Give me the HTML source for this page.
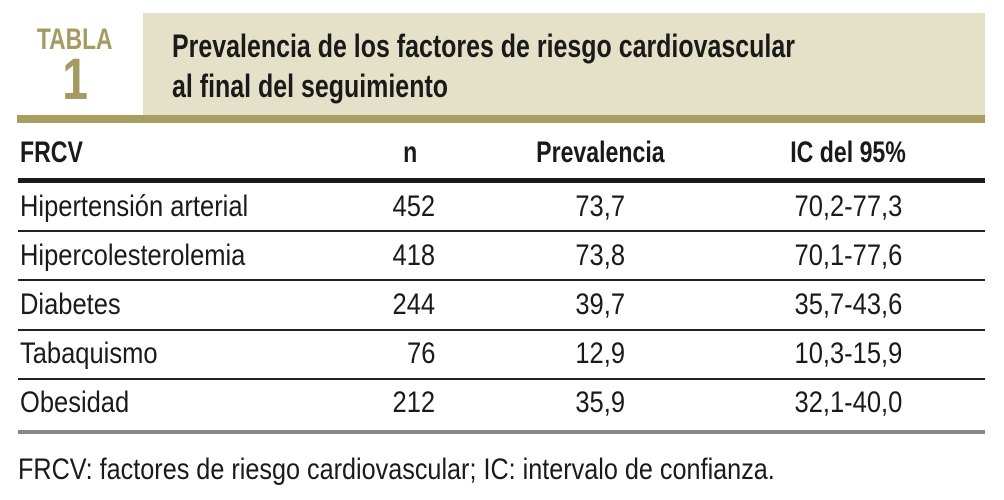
<!DOCTYPE html>
<html><head><meta charset="utf-8"><style>
body{margin:0;width:1004px;height:500px;background:#fff;position:relative;overflow:hidden;font-family:"Liberation Sans",sans-serif;color:#1a1a1a}
.a{position:absolute;white-space:nowrap}
.b{font-weight:bold}
.r{font-size:30px;line-height:30px}
.c{text-align:center}
.s{display:inline-block;transform:scaleX(0.85)}
.L .s{transform-origin:left}
.R .s{transform-origin:right}
.c .s{transform-origin:center}
.h .s{transform:scaleX(0.77)}
</style></head><body>
<div class="a" style="left:143px;top:13px;width:842px;height:102px;background:#e5e1c8"></div>
<div class="a" style="left:17px;top:115px;width:968px;height:8px;background:#a89e62"></div>
<div class="a b c" style="left:25px;width:100px;top:25px;font-size:30px;line-height:30px;color:#a59b60"><span class="s" style="transform:scaleX(0.76)">TABLA</span></div>
<div class="a b c" style="left:25px;width:100px;top:51px;font-size:58px;line-height:58px;color:#a59b60"><span class="s" style="transform:scaleX(0.8)">1</span></div>
<div class="a b L" style="left:172px;top:26px;font-size:32px;line-height:40px;color:#1a1a1a"><span class="s" style="transform:scaleX(0.78)">Prevalencia de los factores de riesgo cardiovascular<br>al final del seguimiento</span></div>
<div class="a b r L h" style="left:20px;top:138px"><span class="s">FRCV</span></div>
<div class="a b r c h" style="left:380px;width:60px;top:138px"><span class="s">n</span></div>
<div class="a b r c h" style="left:500px;width:200px;top:138px"><span class="s">Prevalencia</span></div>
<div class="a b r c h" style="left:748px;width:200px;top:138px"><span class="s">IC del 95%</span></div>
<div class="a" style="left:18px;top:178px;width:967px;height:5px;background:#1a1a1a"></div>
<div class="a" style="left:18px;top:230px;width:967px;height:1.5px;background:#222"></div>
<div class="a" style="left:18px;top:279px;width:967px;height:1.5px;background:#222"></div>
<div class="a" style="left:18px;top:329px;width:967px;height:1.5px;background:#222"></div>
<div class="a" style="left:18px;top:378px;width:967px;height:1.5px;background:#222"></div>
<div class="a" style="left:18px;top:430px;width:967px;height:4px;background:#888"></div>

<div class="a r L" style="left:20px;top:192px"><span class="s">Hipertensión arterial</span></div>
<div class="a r L" style="left:20px;top:241px"><span class="s">Hipercolesterolemia</span></div>
<div class="a r L" style="left:20px;top:290px"><span class="s">Diabetes</span></div>
<div class="a r L" style="left:20px;top:339px"><span class="s">Tabaquismo</span></div>
<div class="a r L" style="left:20px;top:388px"><span class="s">Obesidad</span></div>

<div class="a r R" style="left:335px;width:100px;text-align:right;top:192px"><span class="s">452</span></div>
<div class="a r R" style="left:335px;width:100px;text-align:right;top:241px"><span class="s">418</span></div>
<div class="a r R" style="left:335px;width:100px;text-align:right;top:290px"><span class="s">244</span></div>
<div class="a r R" style="left:335px;width:100px;text-align:right;top:339px"><span class="s">76</span></div>
<div class="a r R" style="left:335px;width:100px;text-align:right;top:388px"><span class="s">212</span></div>

<div class="a r c" style="left:500px;width:200px;top:192px"><span class="s">73,7</span></div>
<div class="a r c" style="left:500px;width:200px;top:241px"><span class="s">73,8</span></div>
<div class="a r c" style="left:500px;width:200px;top:290px"><span class="s">39,7</span></div>
<div class="a r c" style="left:500px;width:200px;top:339px"><span class="s">12,9</span></div>
<div class="a r c" style="left:500px;width:200px;top:388px"><span class="s">35,9</span></div>

<div class="a r c" style="left:748px;width:200px;top:192px"><span class="s">70,2-77,3</span></div>
<div class="a r c" style="left:748px;width:200px;top:241px"><span class="s">70,1-77,6</span></div>
<div class="a r c" style="left:748px;width:200px;top:290px"><span class="s">35,7-43,6</span></div>
<div class="a r c" style="left:748px;width:200px;top:339px"><span class="s">10,3-15,9</span></div>
<div class="a r c" style="left:748px;width:200px;top:388px"><span class="s">32,1-40,0</span></div>

<div class="a r L" style="left:18px;top:455px"><span class="s" style="transform:scaleX(0.84)">FRCV: factores de riesgo cardiovascular; IC: intervalo de confianza.</span></div>
</body></html>
